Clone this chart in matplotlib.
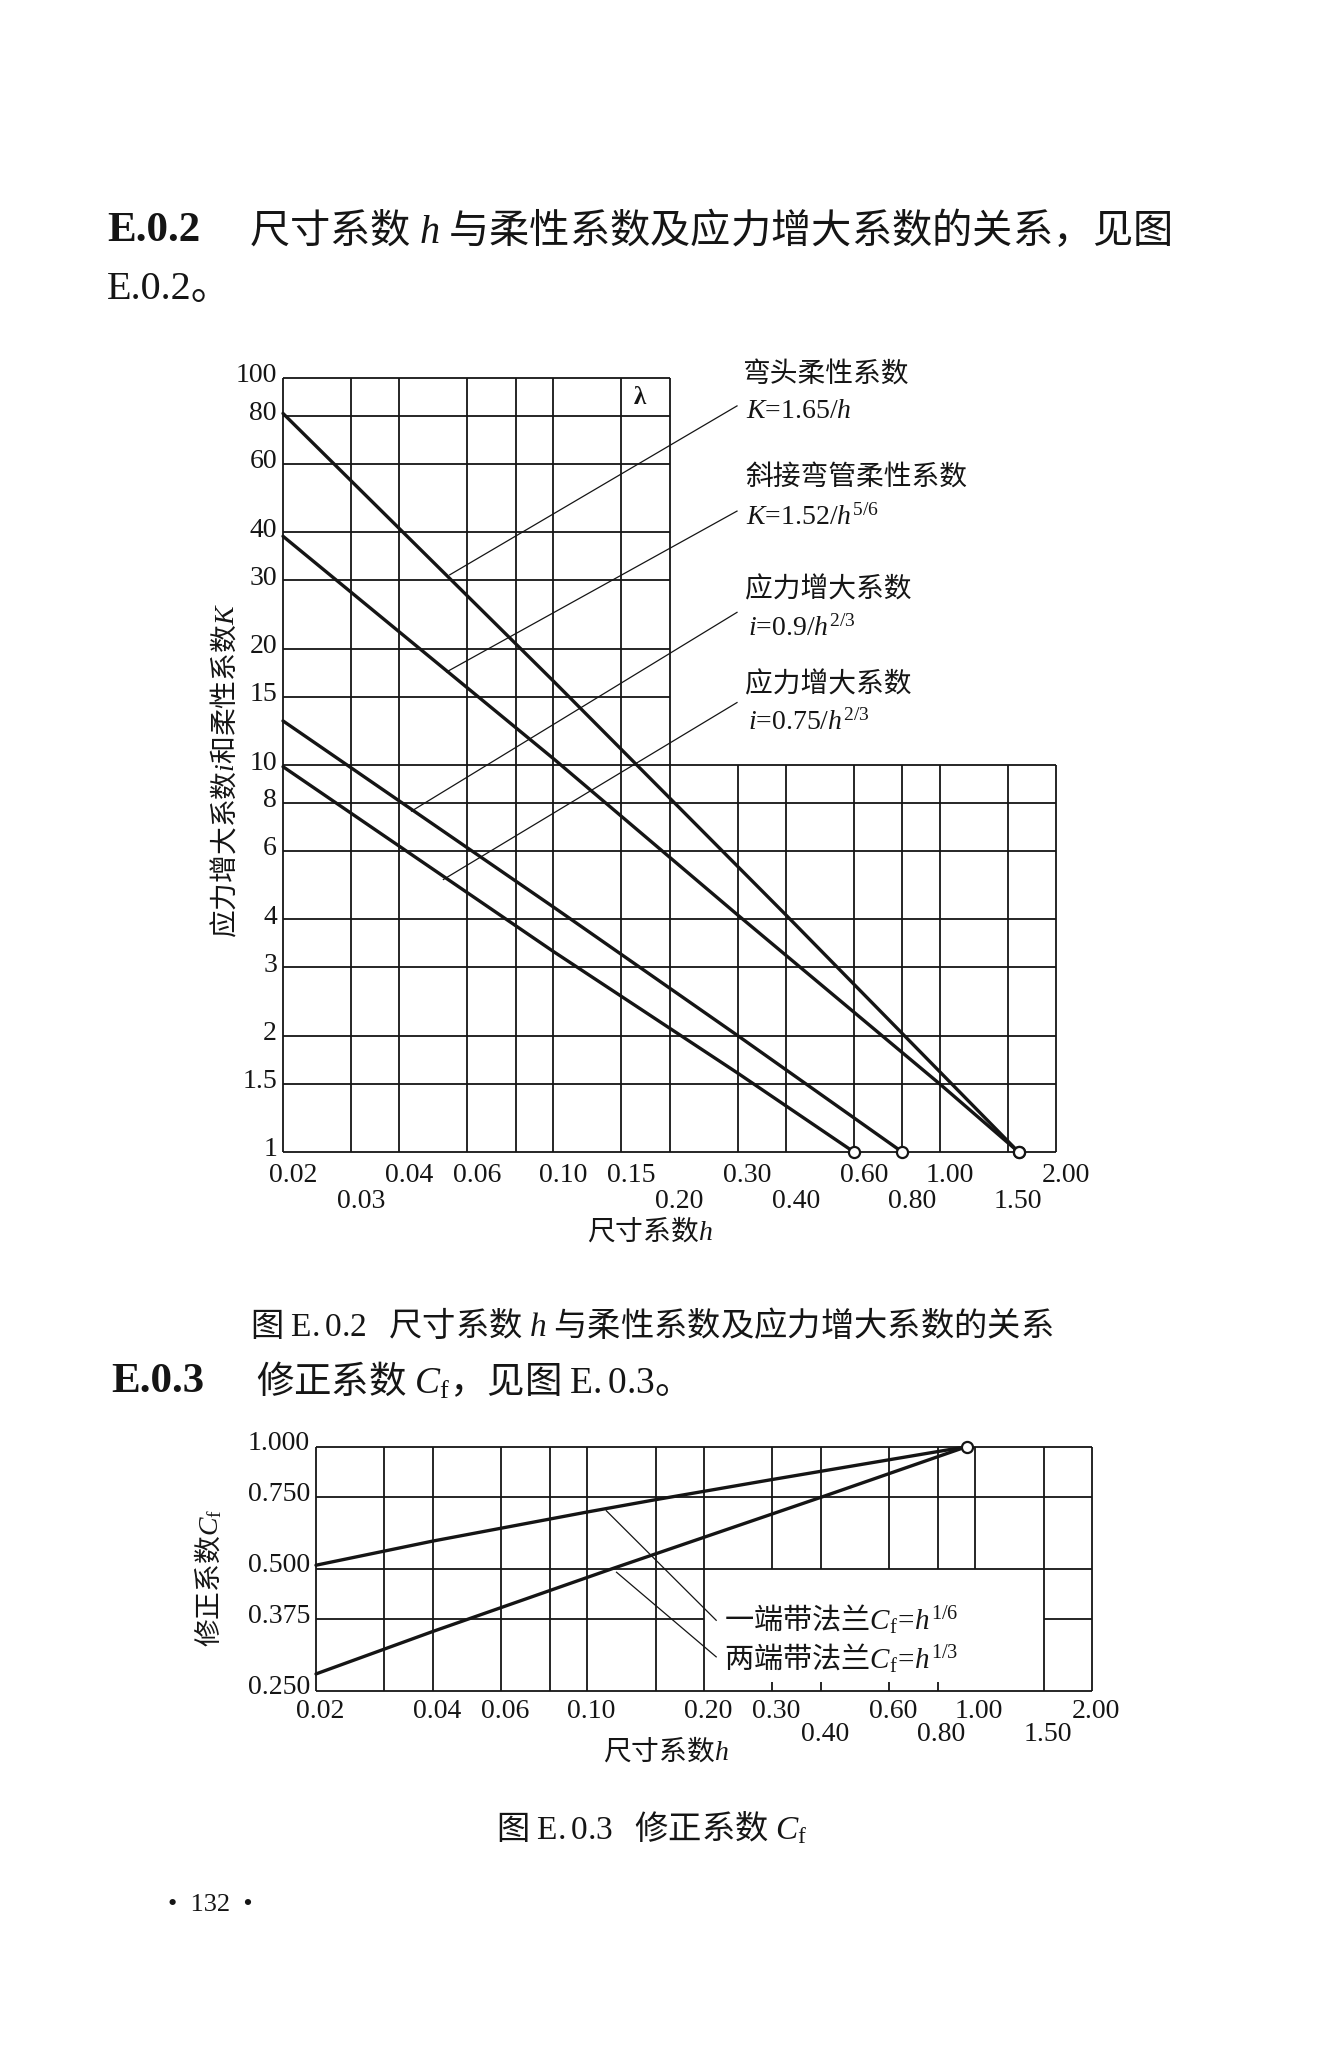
import matplotlib
matplotlib.use('Agg')
import matplotlib.pyplot as plt
import matplotlib.transforms as mtrans

### global font setting
plt.rcParams['font.family'] = ['Liberation Serif', 'Noto Sans CJK SC']
plt.rcParams['mathtext.fontset'] = 'custom'
plt.rcParams['mathtext.rm'] = 'Liberation Serif'
plt.rcParams['mathtext.it'] = 'Liberation Serif:italic'
plt.rcParams['mathtext.bf'] = 'Liberation Serif:bold'

CJK = 'Noto Sans CJK SC'
SERIF = 'Liberation Serif'
INK = '#151515'
W, H = 1322, 2048

#### figure E.0.2 : curves (h, value)
h_bend = [0.02, 0.10, 0.40, 1.60]
k_bend = [81.0, 16.5, 4.1, 1.0]
h_miter = [0.02, 0.10, 0.30, 1.00, 1.60]
k_miter = [39.0, 10.4, 4.1, 1.5, 1.0]
h_i09 = [0.02, 0.10, 0.30, 0.80]
i_09 = [13.0, 4.3, 2.0, 1.0]
h_i075 = [0.02, 0.10, 0.30, 0.60]
i_075 = [9.9, 3.3, 1.6, 1.0]

# leader lines: (h, value) on the curve -> (h, value) at the label
lead_h = [(0.054, 0.299), (0.053, 0.299), (0.043, 0.299), (0.052, 0.299)]
lead_v = [(31.0, 84.7), (17.4, 45.3), (7.6, 24.8), (5.06, 14.5)]

# grid of E.0.2 (stepped frame)
top_v_upper = [0.02, 0.03, 0.04, 0.06, 0.08, 0.10, 0.15, 0.20]
top_v_lower = [0.02, 0.03, 0.04, 0.06, 0.08, 0.10, 0.15, 0.20, 0.30, 0.40,
               0.60, 0.80, 1.00, 1.50, 2.00]
top_h_upper = [15, 20, 30, 40, 60, 80, 100]
top_h_lower = [1, 1.5, 2, 3, 4, 6, 8, 10]
top_yticks = [100, 80, 60, 40, 30, 20, 15, 10, 8, 6, 4, 3, 2, 1.5, 1]
top_ylabels = ['100', '80', '60', '40', '30', '20', '15', '10', '8', '6',
               '4', '3', '2', '1.5', '1']
top_x_row1 = [0.02, 0.04, 0.06, 0.10, 0.15, 0.30, 0.60, 1.00, 2.00]
top_x_row2 = [0.03, 0.20, 0.40, 0.80, 1.50]

#### figure E.0.3 : curves
h_one = [0.02, 0.04, 0.10, 0.15, 0.30, 0.95]
cf_one = [0.51, 0.585, 0.69, 0.74, 0.83, 1.0]
h_two = [0.02, 0.04, 0.116, 0.40, 0.95]
cf_two = [0.275, 0.35, 0.50, 0.75, 1.0]
blead_h = [(0.112, 0.215), (0.119, 0.215)]
blead_v = [(0.695, 0.373), (0.49, 0.303)]

bot_v_full = [0.02, 0.03, 0.04, 0.06, 0.08, 0.10, 0.15, 0.20, 1.50, 2.00]
bot_v_upper = [0.30, 0.40, 0.60, 0.80, 1.00]
bot_v_stub = [0.30, 0.40, 0.60, 0.80]
bot_h_full = [0.25, 0.5, 0.75, 1.0]
bot_yticks = [1.0, 0.75, 0.5, 0.375, 0.25]
bot_ylabels = ['1.000', '0.750', '0.500', '0.375', '0.250']
bot_x_row1 = [0.02, 0.04, 0.06, 0.10, 0.20, 0.30, 0.60, 1.00, 2.00]
bot_x_row2 = [0.40, 0.80, 1.50]


fig = plt.figure(figsize=(W / 100, H / 100), dpi=100)
fig.patch.set_facecolor('white')


def ptext(x, y, s, **kw):
    # place text with page pixel coordinates
    kw.setdefault('color', INK)
    return fig.text(x / W, 1 - y / H, s, **kw)


def xrow(ax, vals, dy, dx):
    tr = mtrans.offset_copy(ax.get_xaxis_transform(), fig=fig, x=dx, y=-dy,
                            units='dots')
    for v in vals:
        ax.text(v, 0, '%.2f' % v, transform=tr, ha='center', va='center',
                fontsize=20, family=SERIF, color=INK)


def yrow(ax, vals, labs, dy=0):
    tr = mtrans.offset_copy(ax.get_yaxis_transform(), fig=fig, x=-6, y=dy,
                            units='dots')
    for v, l in zip(vals, labs):
        ax.text(0, v, l, transform=tr, ha='right', va='center',
                fontsize=20, family=SERIF, color=INK)


### page text
ptext(107, 231, 'E.0.2', fontsize=31, weight='bold', family=SERIF, va='center')
ptext(249, 231, '尺寸系数 $h$ 与柔性系数及应力增大系数的关系，见图',
      fontsize=29, family=CJK, va='center')
ptext(107, 290, 'E.0.2。', fontsize=29, va='center')

#### figure E.0.2
ax1 = fig.add_axes([283 / W, 1 - 1152 / H, (1056 - 283) / W, (1152 - 378) / H])
ax1.set_xscale('log')
ax1.set_yscale('log')
ax1.set_xlim(0.02, 2.0)
ax1.set_ylim(1, 100)
ax1.set_axis_off()

gkw = dict(colors=INK, lw=1.3, clip_on=False, zorder=1)
ax1.vlines(top_v_upper, 10, 100, **gkw)
ax1.vlines(top_v_lower, 1, 10, **gkw)
ax1.hlines(top_h_upper, 0.02, 0.20, **gkw)
ax1.hlines(top_h_lower, 0.02, 2.0, **gkw)

for hh, vv in [(h_bend, k_bend), (h_miter, k_miter), (h_i09, i_09),
               (h_i075, i_075)]:
    ax1.plot(hh, vv, '-', color=INK, lw=2.4, clip_on=False, zorder=3,
             solid_capstyle='round')
    ax1.plot(hh[-1], vv[-1], 'o', ms=8, mfc='white', mec=INK, mew=1.6,
             clip_on=False, zorder=4)
for hh, vv in zip(lead_h, lead_v):
    ax1.plot(hh, vv, '-', color=INK, lw=0.9, clip_on=False, zorder=2)

yrow(ax1, top_yticks, top_ylabels, dy=2)
xrow(ax1, top_x_row1, 23, 10)
xrow(ax1, top_x_row2, 49, 10)

ptext(640, 398, 'λ', fontsize=18, weight='bold', family=SERIF,
      ha='center', va='center')
ptext(742, 375, '弯头柔性系数', fontsize=20, va='center')
ptext(746, 418, '$K$=1.65/$h$', fontsize=20, family=SERIF, va='baseline')
ptext(745, 478, '斜接弯管柔性系数', fontsize=20, va='center')
ptext(746, 525, '$K$=1.52/$h^{5/6}$', fontsize=20, family=SERIF, va='baseline')
ptext(745, 590, '应力增大系数', fontsize=20, va='center')
ptext(748, 636, '$i$=0.9/$h^{2/3}$', fontsize=20, family=SERIF, va='baseline')
ptext(745, 685, '应力增大系数', fontsize=20, va='center')
ptext(748, 730, '$i$=0.75/$h^{2/3}$', fontsize=20, family=SERIF, va='baseline')

ptext(225, 771, '应力增大系数$i$和柔性系数$K$', fontsize=20, family=CJK,
      rotation=90, ha='center', va='center')
ptext(650, 1232, '尺寸系数$h$', fontsize=20, family=CJK, ha='center',
      va='center')
ptext(652, 1326, '图 $\\mathrm{E.0.2}$   尺寸系数 $h$ 与柔性系数及应力增大系数的关系',
      fontsize=24, family=CJK, ha='center', va='center')

ptext(111, 1382, 'E.0.3', fontsize=31, weight='bold', family=SERIF, va='center')
ptext(256, 1382, '修正系数 $C_{\\mathrm{f}}$，见图 $\\mathrm{E.0.3}$。',
      fontsize=27, family=CJK, va='center')

#### figure E.0.3
ax2 = fig.add_axes([316 / W, 1 - 1690.7 / H, (1092 - 316) / W,
                    (1690.7 - 1446.7) / H])
ax2.set_xscale('log')
ax2.set_yscale('log', base=2)
ax2.set_xlim(0.02, 2.0)
ax2.set_ylim(0.25, 1.0)
ax2.set_axis_off()

ax2.vlines(bot_v_full, 0.25, 1.0, **gkw)
ax2.vlines(bot_v_upper, 0.5, 1.0, **gkw)
ax2.vlines(bot_v_stub, 0.25, 0.263, **gkw)
ax2.hlines(bot_h_full, 0.02, 2.0, **gkw)
ax2.hlines([0.375], 0.02, 0.20, **gkw)
ax2.hlines([0.375], 1.50, 2.0, **gkw)

for hh, vv in [(h_one, cf_one), (h_two, cf_two)]:
    ax2.plot(hh, vv, '-', color=INK, lw=2.4, clip_on=False, zorder=3,
             solid_capstyle='round')
ax2.plot(h_one[-1], cf_one[-1], 'o', ms=8, mfc='white', mec=INK, mew=1.6,
         clip_on=False, zorder=4)
for hh, vv in zip(blead_h, blead_v):
    ax2.plot(hh, vv, '-', color=INK, lw=0.9, clip_on=False, zorder=2)

yrow(ax2, bot_yticks, bot_ylabels, dy=3)
xrow(ax2, bot_x_row1, 21, 4)
xrow(ax2, bot_x_row2, 44, 4)

ptext(724, 1630, '一端带法兰$C_{\\mathrm{f}}\\!=\\!h^{1/6}$', fontsize=21,
      family=CJK, va='baseline')
ptext(724, 1669, '两端带法兰$C_{\\mathrm{f}}\\!=\\!h^{1/3}$', fontsize=21,
      family=CJK, va='baseline')
ptext(209, 1578, '修正系数$C_{\\mathrm{f}}$', fontsize=20, family=CJK,
      rotation=90, ha='center', va='center')
ptext(666, 1752, '尺寸系数$h$', fontsize=20, family=CJK, ha='center',
      va='center')
ptext(652, 1829, '图 $\\mathrm{E.0.3}$   修正系数 $C_{\\mathrm{f}}$',
      fontsize=24, family=CJK, ha='center', va='center')

ptext(168, 1905, '•  132  •', fontsize=19, family=SERIF, va='center')

plt.savefig('out.png', dpi=100, facecolor='white')
